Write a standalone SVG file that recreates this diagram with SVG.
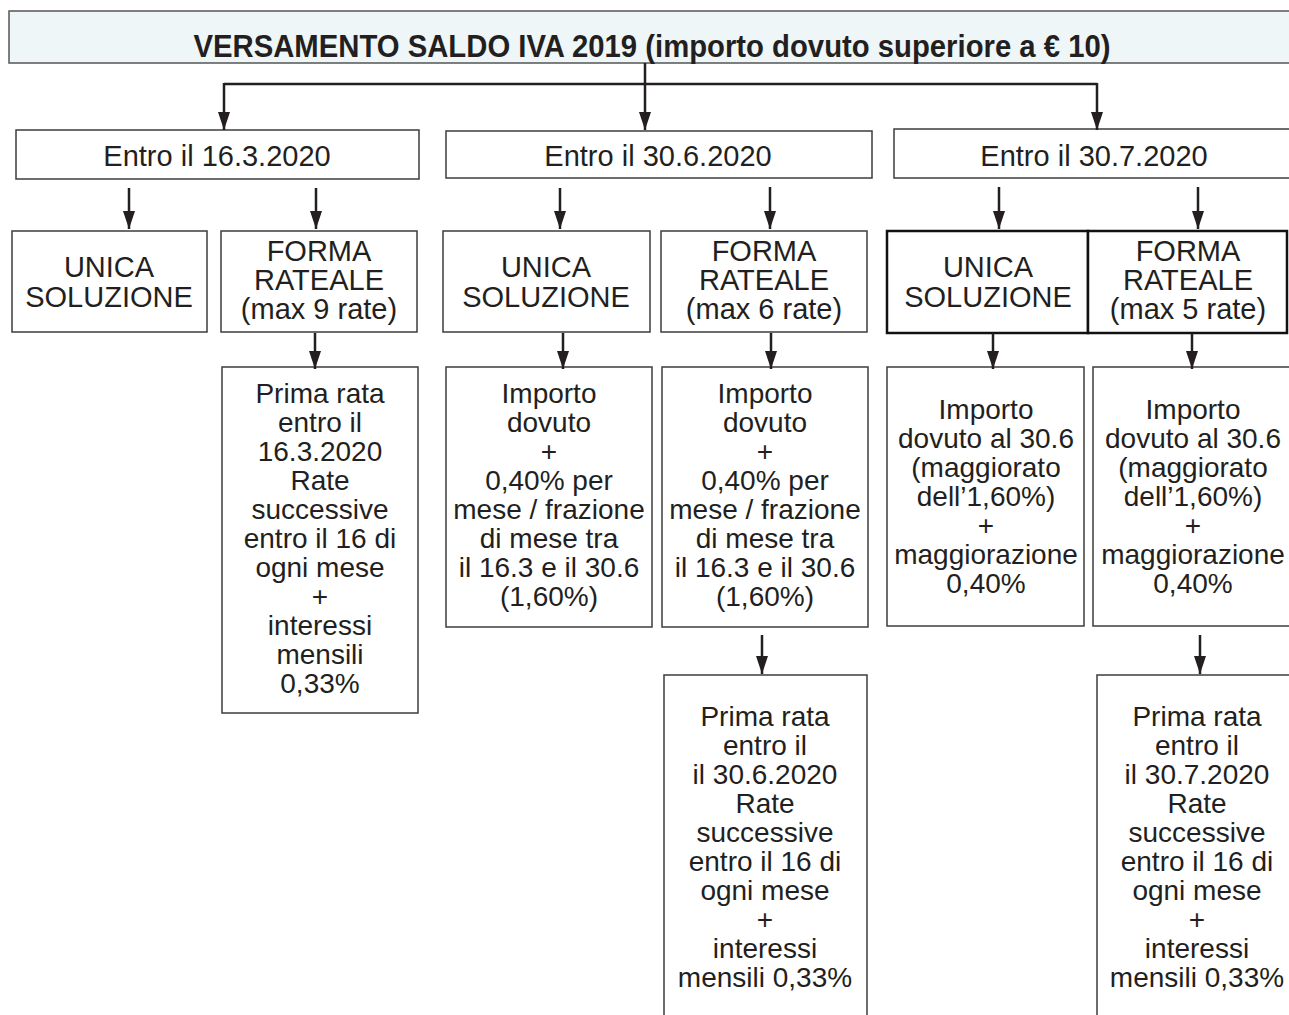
<svg xmlns="http://www.w3.org/2000/svg" width="1289" height="1015" viewBox="0 0 1289 1015">
<defs>
<marker id="ah" markerUnits="userSpaceOnUse" markerWidth="18" markerHeight="12" refX="18" refY="6" orient="auto">
<path d="M0,0 L18,6 L0,12 z" fill="#231f20"/>
</marker>
<style>
.box{fill:#fff;stroke:#3c3c3c;stroke-width:1.5}
.bold{fill:#fff;stroke:#111;stroke-width:2.5}
.t{font-family:"Liberation Sans",Arial,sans-serif;fill:#231f20;text-anchor:middle}
.l1{font-size:29px}
.l3{font-size:28px}
.con{fill:none;stroke:#231f20;stroke-width:2.5}
.arr{fill:none;stroke:#231f20;stroke-width:2.5;marker-end:url(#ah)}
</style>
</defs>
<rect width="1289" height="1015" fill="#fff"/>

<g id="header">
<rect x="9" y="11" width="1290" height="52" fill="#eef6f8" stroke="#555" stroke-width="1.5"/>
<text class="t" x="652" y="57" font-size="31" font-weight="bold" textLength="917" lengthAdjust="spacingAndGlyphs">VERSAMENTO SALDO IVA 2019 (importo dovuto superiore a € 10)</text>
</g>

<g id="date1"><rect class="box" x="16" y="130" width="403" height="49"/><text class="t l1" x="217" y="166">Entro il 16.3.2020</text></g>
<g id="date2"><rect class="box" x="446" y="131" width="426" height="47"/><text class="t l1" x="658" y="166">Entro il 30.6.2020</text></g>
<g id="date3"><rect class="box" x="894" y="129" width="400" height="49"/><text class="t l1" x="1094" y="166">Entro il 30.7.2020</text></g>

<g id="unica1"><rect class="box" x="12" y="231" width="195" height="101"/><text class="t l1" x="109" y="277">UNICA<tspan x="109" y="307">SOLUZIONE</tspan></text></g>
<g id="rate1"><rect class="box" x="221" y="231" width="196" height="101"/><text class="t l1" x="319" y="261">FORMA<tspan x="319" y="290">RATEALE</tspan><tspan x="319" y="319">(max 9 rate)</tspan></text></g>
<g id="unica2"><rect class="box" x="443" y="231" width="207" height="101"/><text class="t l1" x="546" y="277">UNICA<tspan x="546" y="307">SOLUZIONE</tspan></text></g>
<g id="rate2"><rect class="box" x="661" y="231" width="206" height="101"/><text class="t l1" x="764" y="261">FORMA<tspan x="764" y="290">RATEALE</tspan><tspan x="764" y="319">(max 6 rate)</tspan></text></g>
<g id="unica3"><rect class="bold" x="887" y="231" width="201" height="102"/><text class="t l1" x="988" y="277">UNICA<tspan x="988" y="307">SOLUZIONE</tspan></text></g>
<g id="rate3"><rect class="bold" x="1088" y="231" width="199" height="102"/><text class="t l1" x="1188" y="261">FORMA<tspan x="1188" y="290">RATEALE</tspan><tspan x="1188" y="319">(max 5 rate)</tspan></text></g>

<g id="prima1"><rect class="box" x="222" y="367" width="196" height="346"/>
<text class="t l3" x="320" y="403">Prima rata<tspan x="320" y="432">entro il</tspan><tspan x="320" y="461">16.3.2020</tspan><tspan x="320" y="490">Rate</tspan><tspan x="320" y="519">successive</tspan><tspan x="320" y="548">entro il 16 di</tspan><tspan x="320" y="577">ogni mese</tspan><tspan x="320" y="606">+</tspan><tspan x="320" y="635">interessi</tspan><tspan x="320" y="664">mensili</tspan><tspan x="320" y="693">0,33%</tspan></text></g>

<g id="importo2a"><rect class="box" x="446" y="367" width="206" height="260"/>
<text class="t l3" x="549" y="403">Importo<tspan x="549" y="432">dovuto</tspan><tspan x="549" y="461">+</tspan><tspan x="549" y="490">0,40% per</tspan><tspan x="549" y="519">mese / frazione</tspan><tspan x="549" y="548">di mese tra</tspan><tspan x="549" y="577">il 16.3 e il 30.6</tspan><tspan x="549" y="606">(1,60%)</tspan></text></g>
<g id="importo2b"><rect class="box" x="662" y="367" width="206" height="260"/>
<text class="t l3" x="765" y="403">Importo<tspan x="765" y="432">dovuto</tspan><tspan x="765" y="461">+</tspan><tspan x="765" y="490">0,40% per</tspan><tspan x="765" y="519">mese / frazione</tspan><tspan x="765" y="548">di mese tra</tspan><tspan x="765" y="577">il 16.3 e il 30.6</tspan><tspan x="765" y="606">(1,60%)</tspan></text></g>

<g id="importo3a"><rect class="box" x="887" y="367" width="197" height="259"/>
<text class="t l3" x="986" y="419">Importo<tspan x="986" y="448">dovuto al 30.6</tspan><tspan x="986" y="477">(maggiorato</tspan><tspan x="986" y="506">dell’1,60%)</tspan><tspan x="986" y="535">+</tspan><tspan x="986" y="564">maggiorazione</tspan><tspan x="986" y="593">0,40%</tspan></text></g>
<g id="importo3b"><rect class="box" x="1093" y="367" width="210" height="259"/>
<text class="t l3" x="1193" y="419">Importo<tspan x="1193" y="448">dovuto al 30.6</tspan><tspan x="1193" y="477">(maggiorato</tspan><tspan x="1193" y="506">dell’1,60%)</tspan><tspan x="1193" y="535">+</tspan><tspan x="1193" y="564">maggiorazione</tspan><tspan x="1193" y="593">0,40%</tspan></text></g>

<g id="prima2"><rect class="box" x="664" y="675" width="203" height="360"/>
<text class="t l3" x="765" y="726">Prima rata<tspan x="765" y="755">entro il</tspan><tspan x="765" y="784">il 30.6.2020</tspan><tspan x="765" y="813">Rate</tspan><tspan x="765" y="842">successive</tspan><tspan x="765" y="871">entro il 16 di</tspan><tspan x="765" y="900">ogni mese</tspan><tspan x="765" y="929">+</tspan><tspan x="765" y="958">interessi</tspan><tspan x="765" y="987">mensili 0,33%</tspan></text></g>
<g id="prima3"><rect class="box" x="1097" y="675" width="210" height="360"/>
<text class="t l3" x="1197" y="726">Prima rata<tspan x="1197" y="755">entro il</tspan><tspan x="1197" y="784">il 30.7.2020</tspan><tspan x="1197" y="813">Rate</tspan><tspan x="1197" y="842">successive</tspan><tspan x="1197" y="871">entro il 16 di</tspan><tspan x="1197" y="900">ogni mese</tspan><tspan x="1197" y="929">+</tspan><tspan x="1197" y="958">interessi</tspan><tspan x="1197" y="987">mensili 0,33%</tspan></text></g>

<g id="connectors">
<path class="con" d="M224,84 H1097"/>
<path class="arr" d="M224,83 V130"/>
<path class="arr" d="M645,63 V130"/>
<path class="arr" d="M1097,83 V130"/>
<path class="arr" d="M129,188 V229"/>
<path class="arr" d="M316,188 V229"/>
<path class="arr" d="M560,188 V229"/>
<path class="arr" d="M770,187 V229"/>
<path class="arr" d="M999,187 V229"/>
<path class="arr" d="M1198,187 V229"/>
<path class="arr" d="M315,333 V369"/>
<path class="arr" d="M563,333 V369"/>
<path class="arr" d="M771,333 V369"/>
<path class="arr" d="M993,333 V369"/>
<path class="arr" d="M1192,333 V369"/>
<path class="arr" d="M762,635 V674"/>
<path class="arr" d="M1200,635 V674"/>
</g>
</svg>
